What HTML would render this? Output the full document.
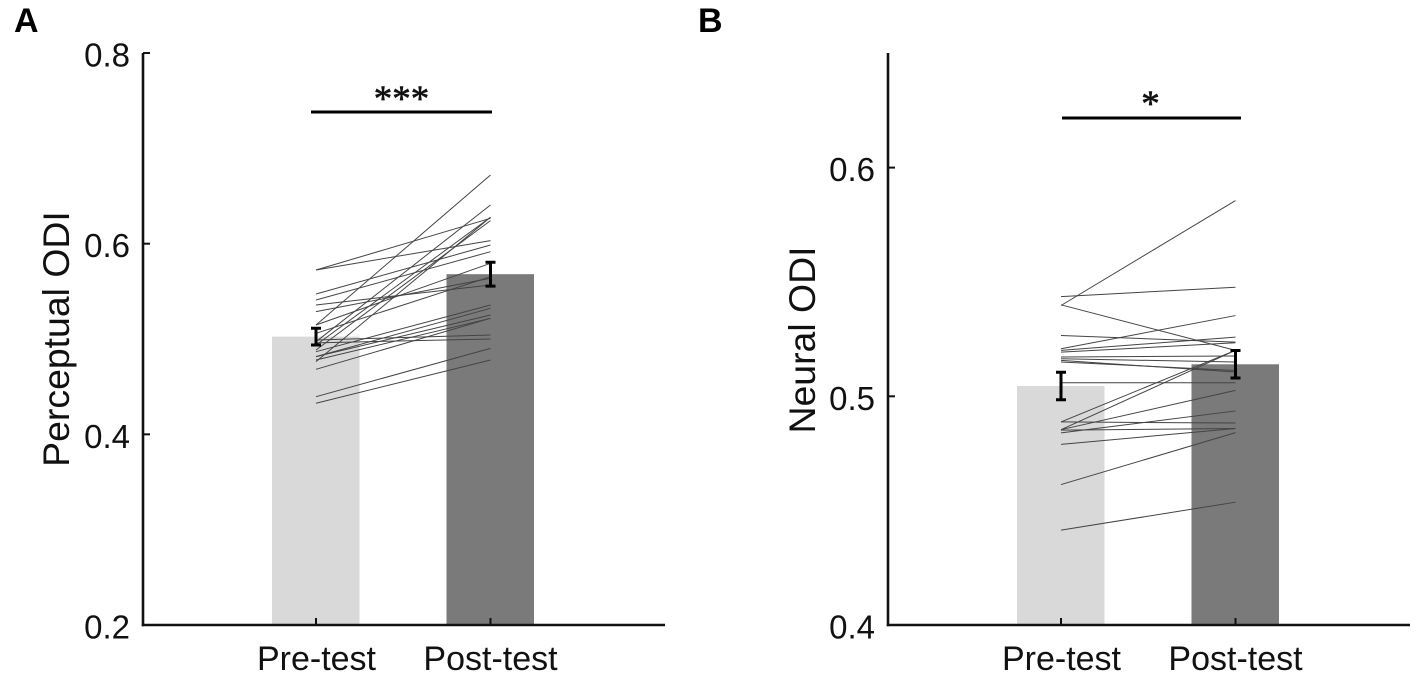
<!DOCTYPE html>
<html>
<head>
<meta charset="utf-8">
<style>
html,body{margin:0;padding:0;background:#fff;}
svg{display:block;}
text{font-family:"Liberation Sans",sans-serif;fill:#111;}
</style>
</head>
<body>
<svg id="chart" width="1418" height="677" viewBox="0 0 1418 677" xmlns="http://www.w3.org/2000/svg"></svg>
<script>
const categories = ['Pre-test', 'Post-test'];

const ticksA = ['0.2', '0.4', '0.6', '0.8'];
const barsA = [0.5025, 0.568];
const errorsA = [0.0088, 0.0125];
const preA = [0.5724, 0.5724, 0.5472, 0.5409, 0.5357, 0.5287, 0.5147, 0.5147, 0.4972, 0.4937, 0.4885, 0.4763, 0.5060, 0.4867, 0.4815, 0.4815, 0.4780, 0.4990, 0.4960, 0.4682, 0.4395, 0.4326];
const postA = [0.6266, 0.6032, 0.5986, 0.5916, 0.5567, 0.5637, 0.6721, 0.5794, 0.6406, 0.6277, 0.6242, 0.6277, 0.5654, 0.5357, 0.5322, 0.5252, 0.5217, 0.5042, 0.5000, 0.5217, 0.4902, 0.4780];

const ticksB = ['0.4', '0.5', '0.6'];
const barsB = [0.5045, 0.514];
const errorsB = [0.006, 0.006];
const preB = [0.5397, 0.5436, 0.5400, 0.5266, 0.5208, 0.5201, 0.5193, 0.5172, 0.5164, 0.5157, 0.5150, 0.5059, 0.4888, 0.4854, 0.4854, 0.4840, 0.4888, 0.4852, 0.4790, 0.4614, 0.4415];
const postB = [0.5856, 0.5477, 0.5201, 0.5237, 0.5353, 0.5259, 0.5234, 0.5176, 0.5150, 0.5106, 0.5113, 0.5059, 0.5201, 0.5201, 0.5026, 0.4936, 0.4883, 0.4859, 0.4859, 0.4841, 0.4537];

const svg = document.getElementById('chart');
const NS = 'http://www.w3.org/2000/svg';

function make(tag, attrs, parent) {
  const el = document.createElementNS(NS, tag);
  for (const k in attrs) el.setAttribute(k, attrs[k]);
  (parent || svg).appendChild(el);
  return el;
}

function drawPanel(cfg) {
  const y = v => cfg.y0 + (cfg.vMin - v) * cfg.scale;
  const xPos = [cfg.x0 + 173, cfg.x0 + 347.5];

  const g = make('g', {});
  
  

  // bars
  [cfg.bars[0], cfg.bars[1]].forEach((v, i) => {
    const bar = make('rect', {
      x: xPos[i] - 44, y: y(v), width: 87.5, height: cfg.y0 - y(v),
      fill: i === 0 ? '#d9d9d9' : '#7a7a7a'
    }, g);
    
    
  });

  // subject lines
  cfg.pre.forEach((v, i) => {
    const line = make('line', {
      x1: xPos[0], y1: y(v), x2: xPos[1], y2: y(cfg.post[i]),
      stroke: '#444', 'stroke-width': 1
    }, g);
    
    
  });

  // error bars
  cfg.bars.forEach((v, i) => {
    const top = y(v + cfg.errors[i]);
    const bot = y(v - cfg.errors[i]);
    const d = 'M' + (xPos[i] - 5) + ' ' + top + 'H' + (xPos[i] + 5) +
      'M' + xPos[i] + ' ' + top + 'V' + bot +
      'M' + (xPos[i] - 5) + ' ' + bot + 'H' + (xPos[i] + 5);
    const err = make('path', { d: d, stroke: '#000', 'stroke-width': 3, fill: 'none' }, g);
    
    
  });

  // axes
  const yAxis = make('line', { x1: cfg.x0, y1: cfg.yTop, x2: cfg.x0, y2: cfg.y0 + 1.2, stroke: '#111', 'stroke-width': 2.6 }, g);
  
  
  const xAxis = make('line', { x1: cfg.x0 - 1.2, y1: cfg.y0, x2: cfg.x0 + 522, y2: cfg.y0, stroke: '#111', 'stroke-width': 2.6 }, g);
  
  

  // y ticks and labels
  cfg.ticks.forEach(t => {
    const v = parseFloat(t);
    const tick = make('line', { x1: cfg.x0, y1: y(v), x2: cfg.x0 + 7, y2: y(v), stroke: '#111', 'stroke-width': 2 }, g);
    
    
    const lab = make('text', { x: cfg.x0 - 13, y: y(v) + 13.5, 'text-anchor': 'end', 'font-size': 33 }, g);
    lab.textContent = t;
    
    
  });

  // x ticks and labels
  categories.forEach((c, i) => {
    const tick = make('line', { x1: xPos[i], y1: cfg.y0, x2: xPos[i], y2: cfg.y0 - 7, stroke: '#111', 'stroke-width': 2 }, g);
    
    
    const lab = make('text', { x: xPos[i] + (i === 0 ? 0.5 : 0), y: 670, 'text-anchor': 'middle', 'font-size': 34 }, g);
    lab.textContent = c;
    
    
  });

  // y title
  const title = make('text', {
    transform: 'translate(' + cfg.titleX + ' ' + cfg.titleY + ') rotate(-90)',
    'text-anchor': 'middle', 'font-size': 37.4
  }, g);
  title.textContent = cfg.title;
  
  

  // significance
  const sig = make('line', { x1: cfg.sigX1, y1: cfg.sigY, x2: cfg.sigX2, y2: cfg.sigY, stroke: '#000', 'stroke-width': 3 }, g);
  
  
  const stars = make('text', {
    x: (cfg.sigX1 + cfg.sigX2) / 2 + cfg.starDx, y: cfg.sigY + cfg.starDy,
    'text-anchor': 'middle', 'font-size': 37
  }, g);
  stars.setAttribute('style', 'font-family:"Liberation Serif",serif;fill:#111;stroke:#111;stroke-width:0.6');
  stars.textContent = cfg.stars;
  
  

  // panel letter
  const letter = make('text', { x: cfg.letterX, y: 32, 'font-size': 34, 'font-weight': 'bold' }, g);
  letter.setAttribute('style', 'fill:#000');
  letter.textContent = cfg.letter;
  
  
}

drawPanel({
  name: 'perceptual-odi', letter: 'A', letterX: 14, title: 'Perceptual ODI', titleX: 69, titleY: 339,
  x0: 143, y0: 625, yTop: 53, vMin: 0.2, scale: 953.3,
  ticks: ticksA, bars: barsA, errors: errorsA, pre: preA, post: postA,
  sigX1: 311, sigX2: 492, sigY: 112, stars: '***', starDx: 0, starDy: -1
});

drawPanel({
  name: 'neural-odi', letter: 'B', letterX: 698, title: 'Neural ODI', titleX: 815, titleY: 340,
  x0: 888, y0: 625, yTop: 53, vMin: 0.4, scale: 2287,
  ticks: ticksB, bars: barsB, errors: errorsB, pre: preB, post: postB,
  sigX1: 1062, sigX2: 1241, sigY: 118, stars: '*', starDx: -1, starDy: -2
});
</script>
</body>
</html>
